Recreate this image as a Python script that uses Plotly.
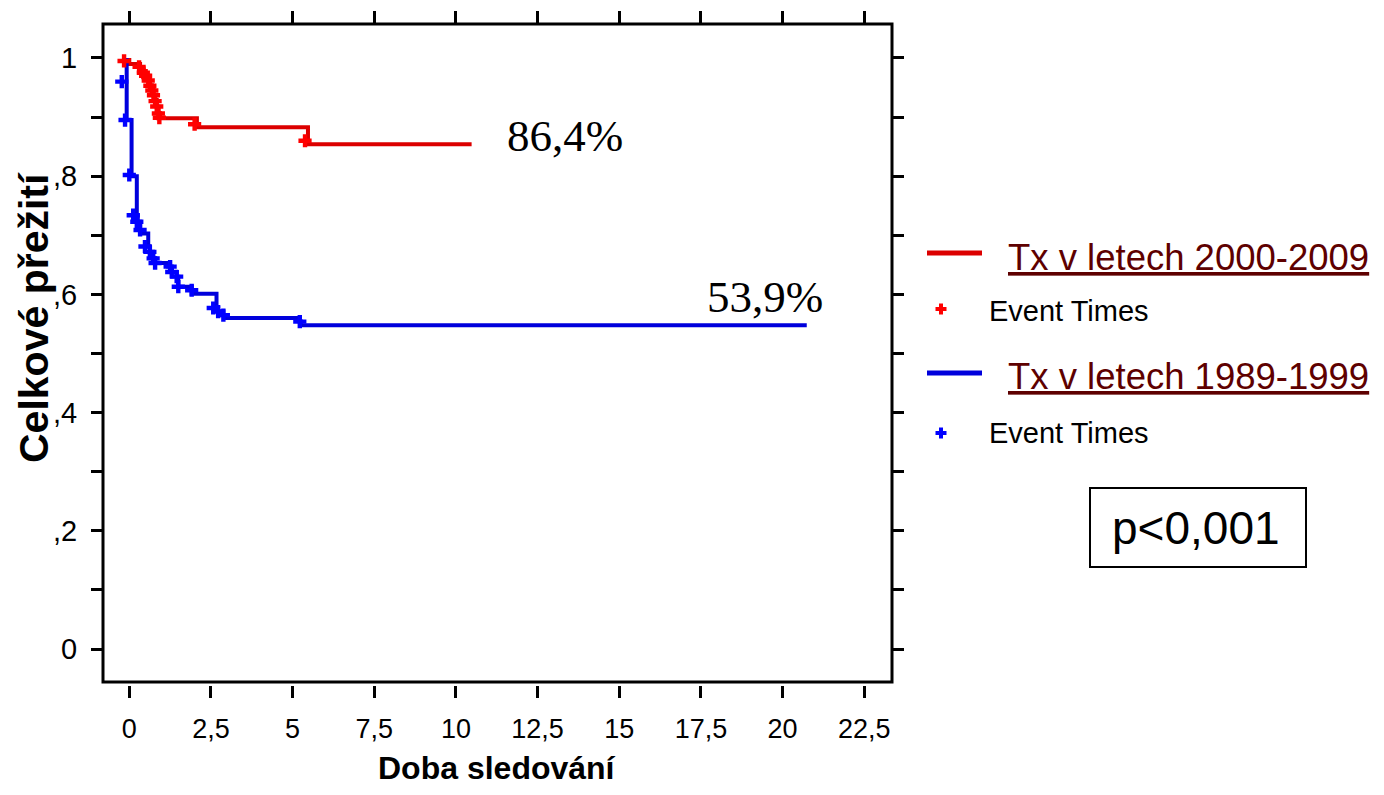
import plotly.graph_objects as go

# ---------------- data ----------------
# Kaplan-Meier step points (time, survival)
red_t = [0.0, 0.0, 0.33, 0.43, 0.53, 0.58, 0.63, 0.69, 0.74, 0.79, 0.84, 0.89, 0.94, 2.07, 5.47, 10.48]
red_s = [1.0, 0.99, 0.980, 0.974, 0.968, 0.963, 0.954, 0.946, 0.937, 0.929, 0.918, 0.906, 0.898, 0.883, 0.854, 0.854]
red_ev_t = [-0.16, 0.30, 0.43, 0.50, 0.58, 0.63, 0.69, 0.74, 0.79, 0.84, 0.89, 0.92, 2.0, 5.38]
red_ev_s = [0.995, 0.985, 0.975, 0.970, 0.962, 0.953, 0.945, 0.937, 0.927, 0.918, 0.906, 0.899, 0.888, 0.860]

blue_t = [-0.08, -0.08, 0.07, 0.23, 0.26, 0.33, 0.36, 0.58, 0.63, 0.73, 0.79, 1.19, 1.30, 1.45, 1.50,
          1.91, 2.67, 2.72, 2.88, 2.95, 5.22, 5.25, 20.74]
blue_s = [1.0, 0.895, 0.800, 0.734, 0.723, 0.709, 0.703, 0.681, 0.672, 0.661, 0.653, 0.647, 0.638, 0.630, 0.613,
          0.601, 0.577, 0.571, 0.565, 0.560, 0.554, 0.548, 0.548]
blue_ev_t = [-0.23, -0.13, 0.0, 0.12, 0.23, 0.33, 0.48, 0.63, 0.73, 0.79, 1.25, 1.30, 1.45, 1.50, 1.91,
             2.57, 2.72, 2.88, 5.22]
blue_ev_s = [0.96, 0.895, 0.802, 0.734, 0.723, 0.709, 0.681, 0.672, 0.661, 0.653, 0.647, 0.638, 0.630, 0.613, 0.607,
             0.577, 0.571, 0.565, 0.554]

x_tickvals = [0, 2.5, 5, 7.5, 10, 12.5, 15, 17.5, 20, 22.5]
x_ticktext = ["0", "2,5", "5", "7,5", "10", "12,5", "15", "17,5", "20", "22,5"]
y_tickvals = [0, 0.2, 0.4, 0.6, 0.8, 1.0]
y_ticktext = ["0", ",2", ",4", ",6", ",8", "1"]

series_names = ["Tx v letech 2000-2009", "Tx v letech 1989-1999"]
event_label = "Event Times"
final_labels = ["86,4%", "53,9%"]
p_text = "p<0,001"
x_title = "Doba sledování"
y_title = "Celkové přežití"

RED_LINE = "#dc0000"
RED_MARK = "#ff0000"
BLUE_LINE = "#0000dc"
BLUE_MARK = "#0000ff"
LEG_TXT = "#5e0000"
ARIAL = "Arial, Liberation Sans, sans-serif"

# ---------------- figure ----------------
OFF = 8  # page body margin
W, H = 1384 - 2 * OFF, 795 - 2 * OFF
# plot area in page pixels: x 103..892, y 24..685
L = 103 - OFF
T = 24 - OFF
R = W - (892 - OFF)
B = H - (685 - OFF)
pw, ph = W - L - R, H - T - B


def px(x):
    """page pixel x -> paper"""
    return (x - OFF - L) / pw


def py(y):
    """page pixel y -> paper"""
    return (T + ph - (y - OFF)) / ph


fig = go.Figure()
fig.add_trace(go.Scatter(x=red_t, y=red_s, mode="lines", line=dict(color=RED_LINE, width=4, shape="hv"),
                         showlegend=False, hoverinfo="skip"))
fig.add_trace(go.Scatter(x=blue_t, y=blue_s, mode="lines", line=dict(color=BLUE_LINE, width=4, shape="hv"),
                         showlegend=False, hoverinfo="skip"))
fig.add_trace(go.Scatter(x=red_ev_t, y=red_ev_s, mode="markers",
                         marker=dict(symbol="cross", size=11, color=RED_MARK, line=dict(width=0)),
                         showlegend=False, hoverinfo="skip"))
fig.add_trace(go.Scatter(x=blue_ev_t, y=blue_ev_s, mode="markers",
                         marker=dict(symbol="cross", size=11, color=BLUE_MARK, line=dict(width=0)),
                         showlegend=False, hoverinfo="skip"))

fig.update_xaxes(range=[-0.805, 23.35], tickvals=x_tickvals, ticktext=x_ticktext,
                 ticks="outside", ticklen=12, tickwidth=2.5, tickcolor="black", mirror="ticks",
                 showline=False, showgrid=False, zeroline=False,
                 tickfont=dict(family=ARIAL, size=27, color="black"),
                 ticklabelstandoff=8)
fig.update_yaxes(range=[-0.0609, 1.0575], tickvals=y_tickvals, ticktext=y_ticktext,
                 ticks="outside", ticklen=11, tickwidth=2.5, tickcolor="black", mirror="ticks",
                 minor=dict(dtick=0.1, ticks="outside", ticklen=11, tickwidth=2.5, tickcolor="black", showgrid=False),
                 showline=False, showgrid=False, zeroline=False,
                 tickfont=dict(family=ARIAL, size=29, color="black"),
                 ticklabelstandoff=8)

shapes = [
    dict(type="rect", xref="paper", yref="paper", x0=0, x1=1, y0=py(682), y1=1,
         line=dict(color="black", width=3), fillcolor="rgba(0,0,0,0)", layer="above"),
    # legend lines
    dict(type="line", xref="paper", yref="paper", x0=px(927), x1=px(982), y0=py(253), y1=py(253),
         line=dict(color=RED_LINE, width=5)),
    dict(type="line", xref="paper", yref="paper", x0=px(927), x1=px(982), y0=py(373), y1=py(373),
         line=dict(color=BLUE_LINE, width=5)),
    # p-value box
    dict(type="rect", xref="paper", yref="paper", x0=px(1090), x1=px(1306), y0=py(567), y1=py(488),
         line=dict(color="black", width=2), fillcolor="white"),
]
# legend plus markers
for cy, col in [(309, RED_MARK), (433, BLUE_MARK)]:
    shapes.append(dict(type="line", xref="paper", yref="paper", x0=px(935.5), x1=px(946.5),
                       y0=py(cy), y1=py(cy), line=dict(color=col, width=4)))
    shapes.append(dict(type="line", xref="paper", yref="paper", x0=px(941), x1=px(941),
                       y0=py(cy - 5.5), y1=py(cy + 5.5), line=dict(color=col, width=4)))

annotations = [
    dict(x=13.34, y=0.868, xref="x", yref="y", text=final_labels[0], showarrow=False,
         font=dict(family="Liberation Serif, Times New Roman, serif", size=45, color="black")),
    dict(x=19.45, y=0.596, xref="x", yref="y", text=final_labels[1], showarrow=False,
         font=dict(family="Liberation Serif, Times New Roman, serif", size=45, color="black")),
    dict(x=px(1006), y=py(257), xref="paper", yref="paper", xanchor="left", yanchor="middle",
         text=series_names[0], showarrow=False,
         font=dict(family=ARIAL, size=36.5, color=LEG_TXT, lineposition="under")),
    dict(x=px(1006), y=py(376), xref="paper", yref="paper", xanchor="left", yanchor="middle",
         text=series_names[1], showarrow=False,
         font=dict(family=ARIAL, size=36.5, color=LEG_TXT, lineposition="under")),
    dict(x=px(987), y=py(311), xref="paper", yref="paper", xanchor="left", yanchor="middle",
         text=event_label, showarrow=False,
         font=dict(family=ARIAL, size=29, color="black")),
    dict(x=px(987), y=py(433), xref="paper", yref="paper", xanchor="left", yanchor="middle",
         text=event_label, showarrow=False,
         font=dict(family=ARIAL, size=29, color="black")),
    dict(x=px(1196), y=py(528), xref="paper", yref="paper", xanchor="center", yanchor="middle",
         text=p_text, showarrow=False,
         font=dict(family=ARIAL, size=46, color="black")),
    dict(x=px(497), y=py(768), xref="paper", yref="paper", xanchor="center", yanchor="middle",
         text="<b>" + x_title + "</b>", showarrow=False,
         font=dict(family=ARIAL, size=32, color="black")),
    dict(x=px(34), y=py(318), xref="paper", yref="paper", xanchor="center", yanchor="middle",
         text="<b>" + y_title + "</b>", showarrow=False, textangle=-90,
         font=dict(family=ARIAL, size=41, color="black")),
]

fig.update_layout(width=W, height=H, margin=dict(l=L, r=R, t=T, b=B, autoexpand=False),
                  paper_bgcolor="white", plot_bgcolor="white", showlegend=False,
                  shapes=shapes, annotations=annotations)

fig.write_html("out.html")
